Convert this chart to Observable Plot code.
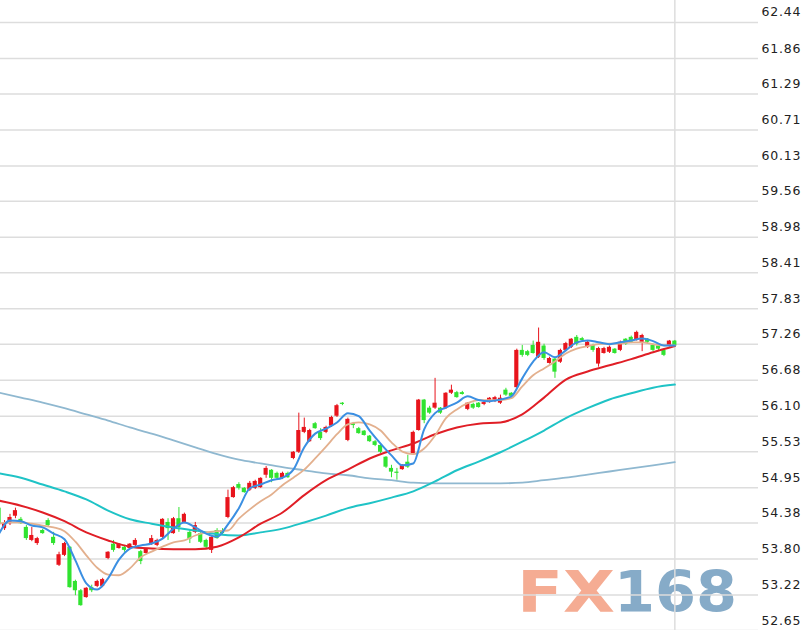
<!DOCTYPE html>
<html><head><meta charset="utf-8">
<script src="https://cdn.jsdelivr.net/npm/d3@7"></script>
<script src="https://cdn.jsdelivr.net/npm/@observablehq/plot@0.6"></script>
<style>
html,body{margin:0;padding:0;background:#fff;}
#chart svg{display:block;background:linear-gradient(to right,#fff 0,#fff 758px,#f0f0f0 758px,#f0f0f0 100%);}
#chart svg text{letter-spacing:0.8px;}
</style></head><body><div id="chart"></div>
<script>
// Candles (index 0 = left-most, partly cut off)
const opens = [54.62,54.29,54.37,54.49,54.44,54.31,54.10,54.05,54.26,54.42,
54.15,53.70,53.86,53.99,53.44,53.29,53.18,53.34,53.36,53.36,
53.81,54.04,53.97,53.99,53.97,54.02,53.92,53.89,54.04,54.02,
54.15,54.39,54.21,54.45,54.39,54.23,54.23,54.21,54.10,53.94,
54.26,54.26,54.47,54.79,55.00,54.94,54.91,54.94,54.95,55.15,
55.23,55.18,55.10,55.18,55.42,55.52,55.84,55.69,55.98,55.84,
55.84,55.94,56.10,56.31,55.71,55.98,55.90,55.86,55.78,55.69,
55.63,55.44,55.26,55.20,55.24,55.36,55.50,55.87,56.36,56.23,
56.23,56.23,56.23,56.47,56.48,56.48,56.21,56.29,56.31,56.29,
56.32,56.34,56.31,56.52,56.47,56.56,57.16,57.14,57.24,57.05,
57.23,56.95,57.02,56.97,57.16,57.21,57.37,57.35,57.21,57.24,
56.94,57.11,57.13,57.18,57.16,57.34,57.37,57.32,57.29,57.34,
57.24,57.23,57.16,57.23,57.31];
const closes = [54.37,54.37,54.47,54.58,54.37,54.13,54.18,54.13,54.21,54.34,
54.05,53.87,54.05,53.34,53.29,53.05,53.33,53.29,53.44,53.47,
53.91,53.94,54.04,53.94,54.04,54.10,53.76,53.96,54.13,54.10,
54.44,54.29,54.45,54.31,54.52,54.12,54.34,54.07,53.99,54.15,
54.13,54.21,54.79,54.95,54.94,54.87,55.02,55.05,55.10,55.26,
55.10,55.10,55.18,55.11,55.52,55.87,55.92,55.87,55.90,55.74,
55.92,56.08,56.27,56.29,56.05,55.95,55.82,55.79,55.69,55.63,
55.52,55.28,55.20,55.18,55.31,55.28,55.84,56.36,56.03,56.15,
56.31,56.15,56.47,56.52,56.40,56.45,56.31,56.23,56.24,56.32,
56.39,56.40,56.39,56.44,56.42,57.16,57.08,57.08,57.11,57.29,
57.03,57.03,56.81,57.16,57.27,57.34,57.26,57.32,57.29,57.16,
57.19,57.19,57.21,57.11,57.29,57.26,57.29,57.45,57.40,57.29,
57.16,57.18,57.08,57.31,57.23];
const highs = [54.65,54.42,54.52,54.62,54.47,54.34,54.31,54.15,54.28,54.45,
54.23,53.91,54.07,54.00,53.46,53.31,53.34,53.38,53.46,53.49,
53.92,54.10,54.05,54.02,54.05,54.13,53.94,53.97,54.18,54.12,
54.45,54.45,54.47,54.63,54.54,54.26,54.39,54.23,54.12,54.16,
54.29,54.29,54.91,54.97,55.03,54.95,55.05,55.07,55.11,55.29,
55.24,55.20,55.20,55.20,55.53,56.15,56.07,55.89,56.00,55.90,
55.94,56.10,56.29,56.32,56.07,56.00,55.92,55.87,55.79,55.71,
55.65,55.45,55.31,55.26,55.32,55.47,55.86,56.37,56.37,56.26,
56.71,56.24,56.48,56.60,56.50,56.50,56.32,56.31,56.32,56.34,
56.40,56.42,56.44,56.55,56.48,57.18,57.24,57.16,57.31,57.52,
57.26,57.05,57.05,57.18,57.29,57.35,57.40,57.37,57.31,57.26,
57.21,57.21,57.23,57.19,57.31,57.35,57.39,57.47,57.42,57.35,
57.26,57.24,57.18,57.32,57.32];
const lows = [54.34,54.26,54.34,54.45,54.36,54.10,54.08,54.02,54.20,54.31,
54.02,53.68,53.84,53.33,53.21,53.04,53.17,53.26,53.34,53.34,
53.79,53.91,53.96,53.91,53.96,54.00,53.71,53.87,54.02,54.00,
54.13,54.10,54.20,54.23,54.37,54.05,54.21,54.05,53.97,53.89,
54.12,54.18,54.45,54.78,54.91,54.86,54.89,54.92,54.94,55.10,
55.03,55.08,55.08,55.10,55.40,55.50,55.82,55.68,55.89,55.71,
55.82,55.92,56.08,56.27,55.69,55.90,55.81,55.78,55.68,55.61,
55.50,55.26,55.11,55.07,55.23,55.26,55.49,55.86,55.98,56.13,
56.21,56.13,56.21,56.45,56.39,56.44,56.19,56.21,56.23,56.27,
56.31,56.32,56.29,56.42,56.40,56.55,57.05,57.06,57.10,57.03,
57.00,56.94,56.71,56.95,57.14,57.19,57.23,57.31,57.19,57.13,
56.89,57.10,57.11,57.10,57.14,57.24,57.27,57.31,57.14,57.27,
57.14,57.16,57.06,57.21,57.21];

// Moving averages (MA5/MA10 every 2 candles, others every 4)
const ma5 = [54.21,54.42,54.41,54.34,54.31,54.21,54.12,53.78,53.41,53.31,
53.49,53.79,53.97,54.02,54.05,54.13,54.29,54.39,54.31,54.21,
54.16,54.36,54.62,54.94,55.00,55.07,55.11,55.24,55.60,55.82,
55.90,56.00,56.15,56.10,55.87,55.66,55.47,55.31,55.34,55.89,
56.15,56.24,56.32,56.42,56.36,56.34,56.37,56.42,56.71,56.98,
57.13,57.05,57.16,57.29,57.32,57.29,57.26,57.29,57.32,57.35,
57.31,57.24,57.24];
const ma10 = [54.37,54.39,54.39,54.37,54.34,54.31,54.25,54.08,53.86,53.66,
53.55,53.54,53.65,53.83,53.92,54.00,54.07,54.10,54.18,54.23,
54.25,54.26,54.45,54.60,54.73,54.84,54.99,55.11,55.24,55.42,
55.61,55.81,55.97,56.00,55.97,55.87,55.68,55.53,55.49,55.58,
55.79,56.07,56.21,56.31,56.36,56.36,56.36,56.39,56.58,56.76,
56.87,56.98,57.11,57.19,57.23,57.26,57.27,57.27,57.29,57.29,
57.26,57.24,57.24];
const ma20 = [54.74,54.66,54.55,54.41,54.23,54.10,54.00,53.97,53.96,53.96,
54.00,54.15,54.37,54.55,54.83,55.07,55.24,55.42,55.55,55.66,
55.81,55.92,55.98,56.00,56.13,56.40,56.69,56.82,56.92,57.02,
57.13,57.23];
const ma60 = [55.18,55.11,55.00,54.89,54.76,54.58,54.44,54.37,54.31,54.26,
54.20,54.18,54.23,54.29,54.39,54.50,54.62,54.70,54.79,54.89,
55.05,55.23,55.37,55.52,55.69,55.87,56.07,56.23,56.37,56.47,
56.56,56.61];
const ma120 = [56.48,56.40,56.32,56.23,56.13,56.03,55.92,55.82,55.71,55.60,
55.49,55.40,55.34,55.28,55.23,55.18,55.15,55.10,55.07,55.03,
55.02,55.02,55.02,55.02,55.03,55.07,55.11,55.16,55.21,55.26,
55.31,55.36];

const tickVals = [52.65,53.22,53.80,54.38,54.95,55.53,56.10,56.68,57.26,57.83,58.41,58.98,59.56,60.13,60.71,61.29,61.86,62.44];

const N = opens.length;
const candles = opens.map((o, i) => ({i, o, c: closes[i], h: highs[i], l: lows[i]}));
const RED = "#e8141c", GREEN = "#30e330";
const col = d => d.c >= d.o ? RED : GREEN;
const shortIdx = d3.range(0, N, 2);
const longIdx = d3.range(0, N, 4);
const series = (idx, vals) => idx.map((i, k) => ({i, v: vals[k]}));
const lineOpts = (stroke, w) => ({x: "i", y: "v", stroke, strokeWidth: w, curve: "monotone-x", clip: true});

const plot = Plot.plot({
  width: 811, height: 630,
  marginLeft: 0, marginRight: 53, marginTop: 0, marginBottom: 0,
  x: {type: "linear", domain: [0.257, 139.35], axis: null},
  y: {domain: [52.65, 62.794], axis: null},
  style: {fontFamily: "'DejaVu Sans', Verdana, sans-serif", fontSize: "12.5px", color: "#222", background: "transparent"},
  marks: [
    Plot.ruleY(tickVals, {stroke: "#dddddd", strokeWidth: 1.5}),
    Plot.ruleX([N - 1], {stroke: "#dddddd", strokeWidth: 1.5}),
    Plot.ruleX(candles, {x: "i", y1: "l", y2: "h", stroke: col, strokeWidth: 1, clip: true}),
    Plot.rect(candles, {x1: d => d.i - 0.38, x2: d => d.i + 0.38, y1: "o", y2: "c", fill: col, clip: true}),
    Plot.line(series(longIdx, ma120), lineOpts("#8fb8d0", 1.8)),
    Plot.line(series(longIdx, ma60), lineOpts("#1fc3c6", 2)),
    Plot.line(series(longIdx, ma20), lineOpts("#e01e26", 2)),
    Plot.line(series(shortIdx, ma10), lineOpts("#e3b08e", 1.8)),
    Plot.line(series(shortIdx, ma5), lineOpts("#3b8fe2", 2)),
    Plot.axisY({anchor: "right", ticks: tickVals, tickSize: 0, tickFormat: d => d.toFixed(2), dx: -6, dy: -10, fill: "#222", label: null})
  ]
});

// FX168 watermark (decoration, under the marks)
const svg = d3.select(plot);
const wm = svg.insert("g", "g").attr("aria-label", "watermark").attr("text-anchor", "start");
wm.append("text").attr("x", 517).attr("y", 612).attr("text-anchor", "start")
  .attr("textLength", 98).attr("lengthAdjust", "spacingAndGlyphs")
  .attr("font-family", "'DejaVu Sans', sans-serif").attr("font-weight", "bold").attr("font-size", 57)
  .attr("fill", "#f5ac93").style("letter-spacing", "0px").text("FX");
wm.append("text").attr("x", 614).attr("y", 612).attr("text-anchor", "start")
  .attr("textLength", 123).attr("lengthAdjust", "spacingAndGlyphs")
  .attr("font-family", "'DejaVu Sans', sans-serif").attr("font-weight", "bold").attr("font-size", 57)
  .attr("fill", "#86abc8").style("letter-spacing", "0px").text("168");

document.getElementById("chart").appendChild(plot);
</script>
</body></html>
